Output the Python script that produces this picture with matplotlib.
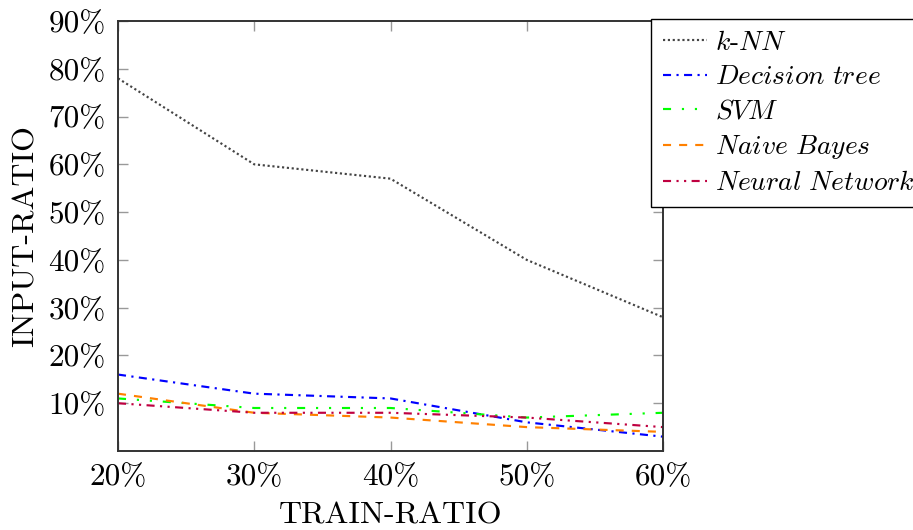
import matplotlib
matplotlib.use('Agg')
import matplotlib.pyplot as plt

plt.rcParams['font.family'] = 'cmr10'
plt.rcParams['mathtext.fontset'] = 'cm'
plt.rcParams['axes.formatter.use_mathtext'] = True
plt.rcParams['lines.scale_dashes'] = False

train_ratio = [20, 30, 40, 50, 60]
knn = [78, 60, 57, 40, 28]
decision_tree = [16, 12, 11, 6, 3]
svm = [11, 9, 9, 7, 8]
naive_bayes = [12, 8, 7, 5, 4]
neural_net = [10, 8, 8, 7, 5]

x_ticks = [20, 30, 40, 50, 60]
y_ticks = [10, 20, 30, 40, 50, 60, 70, 80, 90]

fig = plt.figure(figsize=(9.13, 5.30), dpi=100)
ax = fig.add_axes([118 / 913, 1 - 451 / 530, (663 - 118) / 913, (451 - 21) / 530])

lw = 1.55
ax.plot(train_ratio, knn, color='#444444', lw=lw, dashes=(1.55, 1.94),
        label=r'$k$-$NN$')
ax.plot(train_ratio, decision_tree, color='#0000ff', lw=lw,
        dashes=(5.8, 3.9, 1.55, 3.9), label=r'$Decision\ tree$')
ax.plot(train_ratio, svm, color='#00ff00', lw=lw,
        dashes=(5.8, 7.8, 1.55, 7.8, 1.55, 7.8), label=r'$SVM$')
ax.plot(train_ratio, naive_bayes, color='#ff8000', lw=lw,
        dashes=(5.8, 5.8), label=r'$Naive\ Bayes$')
ax.plot(train_ratio, neural_net, color='#bf0040', lw=lw,
        dashes=(5.8, 3.9, 1.55, 3.9, 1.55, 3.9), label=r'$Neural\ Network$')

ax.set_xlim(20, 60)
ax.set_ylim(0, 90)
ax.set_xticks(x_ticks)
ax.set_xticklabels([f'{v}%' for v in x_ticks])
ax.set_yticks(y_ticks)
ax.set_yticklabels([f'{v}%' for v in y_ticks])
ax.tick_params(direction='in', length=7.5, width=1, color='#999999',
               top=True, right=True, labelsize=22.5, pad=9)

for s in ax.spines.values():
    s.set_linewidth(1.4)
    s.set_color('#333333')

ax.set_xlabel('TRAIN-RATIO', fontsize=23, va='baseline')
ax.xaxis.set_label_coords(0.5, (451 - 524) / 430)
ax.set_ylabel('INPUT-RATIO', fontsize=23, labelpad=6)

leg = ax.legend(loc='upper left', bbox_to_anchor=(651 / 913, 1 - 19 / 530),
                bbox_transform=fig.transFigure, fontsize=19.8, frameon=True,
                fancybox=False, edgecolor='black', framealpha=1,
                handlelength=1.6, handletextpad=0.28, labelspacing=0.36,
                borderpad=0.43, borderaxespad=0)
leg.get_frame().set_linewidth(1.0)

fig.savefig('out.png', dpi=100)
